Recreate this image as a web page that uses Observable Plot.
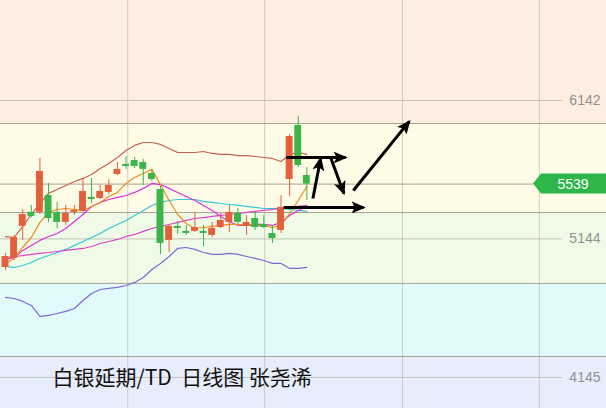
<!DOCTYPE html>
<html><head><meta charset="utf-8">
<script src="https://cdn.jsdelivr.net/npm/d3@7"></script>
<script src="https://cdn.jsdelivr.net/npm/@observablehq/plot@0.6"></script>
<style>body{margin:0;background:#fff} #chart svg{display:block}</style>
</head><body><div id="chart"></div>
<script>
// Daily candles (index 0..35)
const open  = [4938,5003,5234,5335,5335,5457,5335,5263,5335,5342,5443,5435,5479,5608,5681,5709,5695,5616,5500,5133,5234,5198,5198,5198,5169,5226,5263,5327,5234,5291,5248,5183,5205,5572,5962,5601];
const high  = [5039,5169,5356,5385,5724,5544,5407,5385,5385,5580,5580,5529,5572,5695,5738,5731,5717,5645,5522,5248,5270,5241,5335,5241,5263,5327,5385,5363,5313,5335,5313,5241,5457,5897,6027,5659];
const low   = [4916,4988,5133,5298,5320,5263,5219,5241,5313,5335,5399,5428,5464,5601,5645,5652,5529,5558,5032,5046,5176,5169,5190,5089,5154,5219,5190,5248,5169,5205,5219,5111,5183,5450,5659,5421];
const close = [5017,5154,5320,5306,5630,5291,5263,5327,5349,5486,5428,5486,5529,5645,5666,5666,5645,5572,5111,5234,5219,5183,5226,5183,5219,5277,5335,5263,5263,5226,5226,5147,5371,5882,5673,5539];

// Indicator lines
const bollUpper = [5161,5154,5234,5320,5399,5472,5500,5529,5558,5580,5608,5652,5688,5731,5782,5818,5839,5839,5825,5796,5767,5767,5767,5774,5760,5753,5753,5745,5745,5738,5731,5724,5702,5753,5767,5753];
const bollLower = [4722,4714,4693,4664,4585,4592,4606,4621,4642,4700,4750,4779,4787,4794,4808,4830,4866,4923,4967,5017,5075,5082,5068,5046,5032,5032,5039,5032,5017,5003,4988,4967,4967,4931,4931,4938];
const maCyan    = [4945,4938,4952,4974,5003,5024,5046,5068,5097,5125,5154,5183,5219,5248,5277,5313,5349,5385,5407,5421,5428,5428,5428,5414,5407,5399,5392,5385,5378,5371,5363,5363,5363,5356,5349,5342];
const maMagenta = [4996,5010,5061,5097,5133,5161,5183,5219,5270,5320,5378,5407,5428,5443,5457,5479,5508,5544,5536,5508,5479,5450,5421,5385,5349,5306,5270,5241,5241,5248,5248,5241,5263,5313,5349,5378];
const maPink    = [5010,5017,5024,5032,5039,5046,5053,5061,5068,5075,5089,5111,5125,5140,5161,5176,5198,5219,5234,5248,5263,5277,5291,5298,5306,5313,5320,5327,5335,5342,5349,5356,5363,5371,5378,5385];
const maOrange  = [4967,5003,5082,5154,5263,5335,5356,5363,5356,5349,5378,5407,5450,5479,5544,5587,5616,5645,5536,5421,5320,5255,5219,5226,5234,5241,5248,5248,5241,5241,5241,5226,5241,5327,5421,5522];

// Background bands & grid
const bandEdges  = [5976, 5334, 4823, 4296];
const bandColors = ["#fdeee1", "#fefbe6", "#effbe6", "#e1fafc", "#e8edfc"];
const priceTicks = [6142, 5144, 4145];
const lastPrice = 5539;
const gridX = [14.2, 30.1, 46.1, 62.0];

// Drawn arrows (index, price)
const arrX1 = [32.6, 35.7, 37.8, 40.4, 32.3];
const arrY1 = [5731, 5435, 5724, 5493, 5371];
const arrX2 = [39.5, 36.6, 39.3, 46.9, 41.6];
const arrY2 = [5731, 5724, 5472, 5991, 5371];

const title = "白银延期/TD  日线图 张尧浠";

const yDomain = [3921, 6863];
const bandBounds = [yDomain[1], ...bandEdges, yDomain[0]];
const bands = bandColors.map((c, k) => ({hi: bandBounds[k], lo: bandBounds[k + 1], color: c}));
const candles = open.map((o, i) => ({i, o, h: high[i], l: low[i], c: close[i], col: close[i] >= o ? "#e4603c" : "#3cb449"}));
const mkLine = (arr) => arr.map((v, i) => ({i, v}));
const lines = [
  {data: bollUpper, color: "#c8604e"},
  {data: bollLower, color: "#7f69d6"},
  {data: maCyan, color: "#35c6d8"},
  {data: maPink, color: "#e040d0"},
  {data: maMagenta, color: "#dc30dc"},
  {data: maOrange, color: "#f08a1e"}
];
const arrows = arrX1.map((x, k) => ({x1: x, y1: arrY1[k], x2: arrX2[k], y2: arrY2[k]}));

const chart = Plot.plot({
  width: 606, height: 408, margin: 0,
  x: {domain: [-0.58, 69.8], axis: null},
  y: {domain: yDomain, axis: null},
  color: {type: "identity"},
  style: {background: "transparent", overflow: "visible"},
  marks: [
    Plot.rect(bands, {y1: "lo", y2: "hi", fill: "color"}),
    Plot.ruleX(gridX, {stroke: "#c9c1b3", strokeOpacity: 0.8}),
    Plot.ruleY(bandEdges, {stroke: "#aaa292", strokeWidth: 1}),
    Plot.ruleY(priceTicks, {stroke: "#b4ad9f", strokeOpacity: 0.7, insetRight: 44}),
    Plot.ruleY([lastPrice], {stroke: "#aaa292", insetRight: 73}),
    ...lines.map(L => Plot.line(mkLine(L.data), {x: "i", y: "v", stroke: L.color, strokeWidth: 1.2})),
    Plot.ruleX(candles, {x: "i", y1: "l", y2: "h", stroke: "col", strokeWidth: 1}),
    Plot.rect(candles, {x1: d => d.i - 0.4, x2: d => d.i + 0.4, y1: "o", y2: "c", fill: "col"}),
    Plot.link(arrows, {x1: "x1", y1: "y1", x2: "x2", y2: "y2", stroke: "#000", strokeWidth: 3, className: "annarrow"}),
    Plot.text(priceTicks, {y: d => d, text: d => String(d), frameAnchor: "right", dx: -6, fill: "#909090", fontSize: 14, fontFamily: "Liberation Sans, Arial, sans-serif", textAnchor: "end"}),
    Plot.text([title], {frameAnchor: "left", dx: 52, dy: 174, fontSize: 21, fontFamily: "Noto Sans CJK SC", fill: "#111", textAnchor: "start"})
  ]
});

// arrowheads
const svg = d3.select(chart);
const defs = svg.insert("defs", ":first-child");
defs.append("marker").attr("id", "ahead").attr("viewBox", "0 0 14 12")
  .attr("refX", 12).attr("refY", 6).attr("markerWidth", 14).attr("markerHeight", 12)
  .attr("markerUnits", "userSpaceOnUse").attr("orient", "auto")
  .append("path").attr("d", "M0,0 L14,6 L0,12 L3,6 Z").attr("fill", "#000");
svg.selectAll(".annarrow path, .annarrow line").attr("marker-end", "url(#ahead)");

// last price tag
const ys = chart.scale("y");
const yy = ys.apply(lastPrice);
const tag = svg.append("g");
tag.append("path").attr("d", `M533,${yy} L541,${yy - 10} L606,${yy - 10} L606,${yy + 10} L541,${yy + 10} Z`).attr("fill", "#2db64a");
tag.append("text").attr("x", 573).attr("y", yy).attr("dy", "0.35em").attr("text-anchor", "middle")
  .attr("fill", "#fff").attr("font-size", 14).attr("font-family", "Liberation Sans, Arial, sans-serif").text(String(lastPrice));

document.getElementById("chart").appendChild(chart);
</script>
</body></html>
